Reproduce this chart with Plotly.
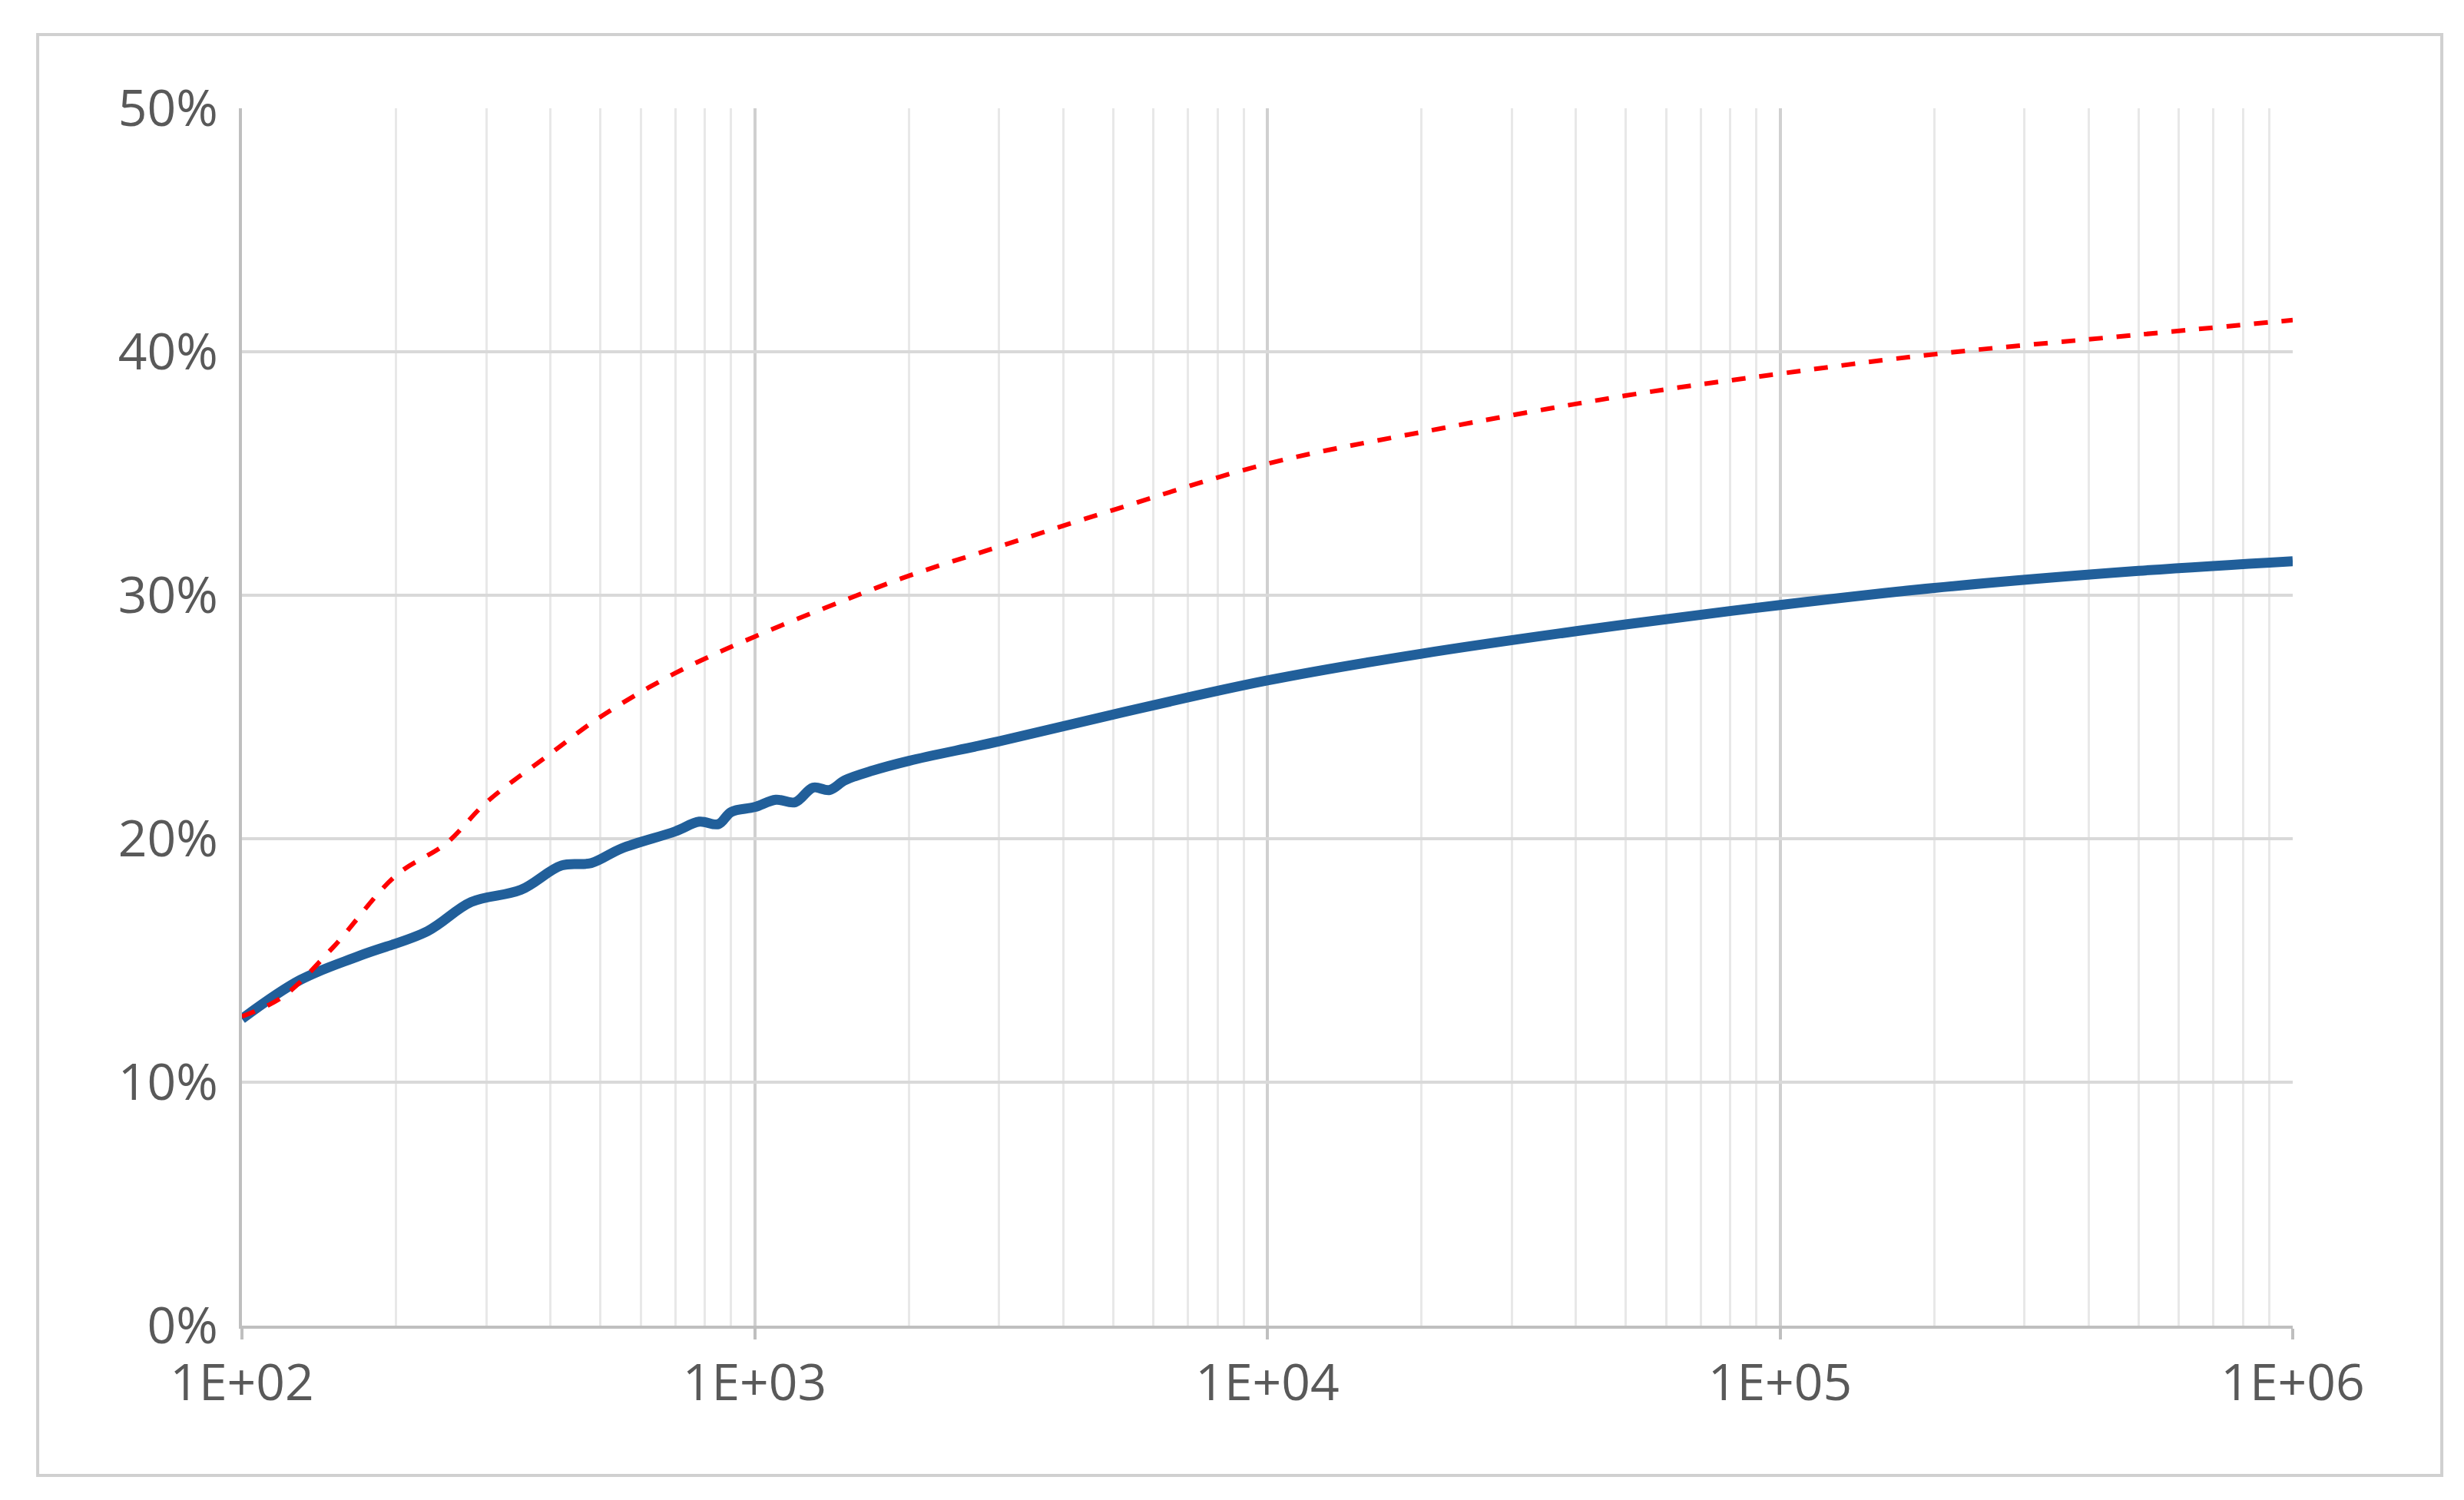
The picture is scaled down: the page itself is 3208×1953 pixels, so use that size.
import plotly.graph_objects as go

red_x = [100,120,150,200,250,300,400,500,700,1000,1500,2000,3000,5000,1e4,2e4,5e4,1e5,2e5,5e5,1e6]
red_y = [0.127,0.135,0.155,0.185,0.198,0.215,0.235,0.250,0.268,0.283,0.298,0.308,0.320,0.335,0.354,0.367,0.382,0.391,0.399,0.407,0.413]

blue_x = [100,130,170,230,280,350,420,480,550,700,780,850,900,1000,1100,1200,1300,1400,1500,1700,2000,3000,5000,1e4,2e4,5e4,1e5,2e5,5e5,1e6]
blue_y = [0.126,0.142,0.152,0.162,0.174,0.179,0.189,0.190,0.196,0.203,0.207,0.206,0.211,0.213,0.216,0.215,0.221,0.220,0.224,0.228,0.232,0.240,0.251,0.265,0.276,0.288,0.296,0.303,0.310,0.314]

xticks = [100,1000,10000,100000,1000000]
xlabels = ["1E+02","1E+03","1E+04","1E+05","1E+06"]
minor_ticks = [m * d for d in [100, 1000, 10000, 100000] for m in range(2, 10)]

fig = go.Figure()
fig.add_trace(go.Scatter(x=blue_x, y=blue_y, mode="lines", line=dict(color="#215f9a", width=13, shape="spline")))
fig.add_trace(go.Scatter(x=red_x, y=red_y, mode="lines", line=dict(color="#ff0000", width=6, dash="dash", shape="spline")))

fig.update_layout(
    width=3208, height=1953, showlegend=False,
    margin=dict(l=307, r=231, t=133, b=235),
    plot_bgcolor="white", paper_bgcolor="white",
    font=dict(family="Open Sans", size=66, color="#595959"),
    shapes=[dict(type="rect", xref="paper", yref="paper", x0=-0.0996, x1=1.0727, y0=-0.123, y1=1.0606,
                 line=dict(color="#d0d0d0", width=4))],
)
fig.update_xaxes(type="log", range=[2, 6], tickvals=xticks, ticktext=xlabels,
                 showgrid=True, gridcolor="#d0d0d0", gridwidth=4,
                 minor=dict(tickvals=minor_ticks, showgrid=True, gridcolor="#e8e8e8", gridwidth=3),
                 showline=True, linecolor="#bfbfbf", linewidth=4,
                 ticks="outside", ticklen=14, tickcolor="#bfbfbf", tickwidth=4, zeroline=False)
fig.update_yaxes(range=[0, 0.5], dtick=0.1, tickformat=".0%",
                 showgrid=True, gridcolor="#d9d9d9", gridwidth=4,
                 showline=True, linecolor="#bfbfbf", linewidth=4, zeroline=False,
                 ticks="outside", ticklen=0, ticklabelstandoff=14)
fig.write_html("out.html")
